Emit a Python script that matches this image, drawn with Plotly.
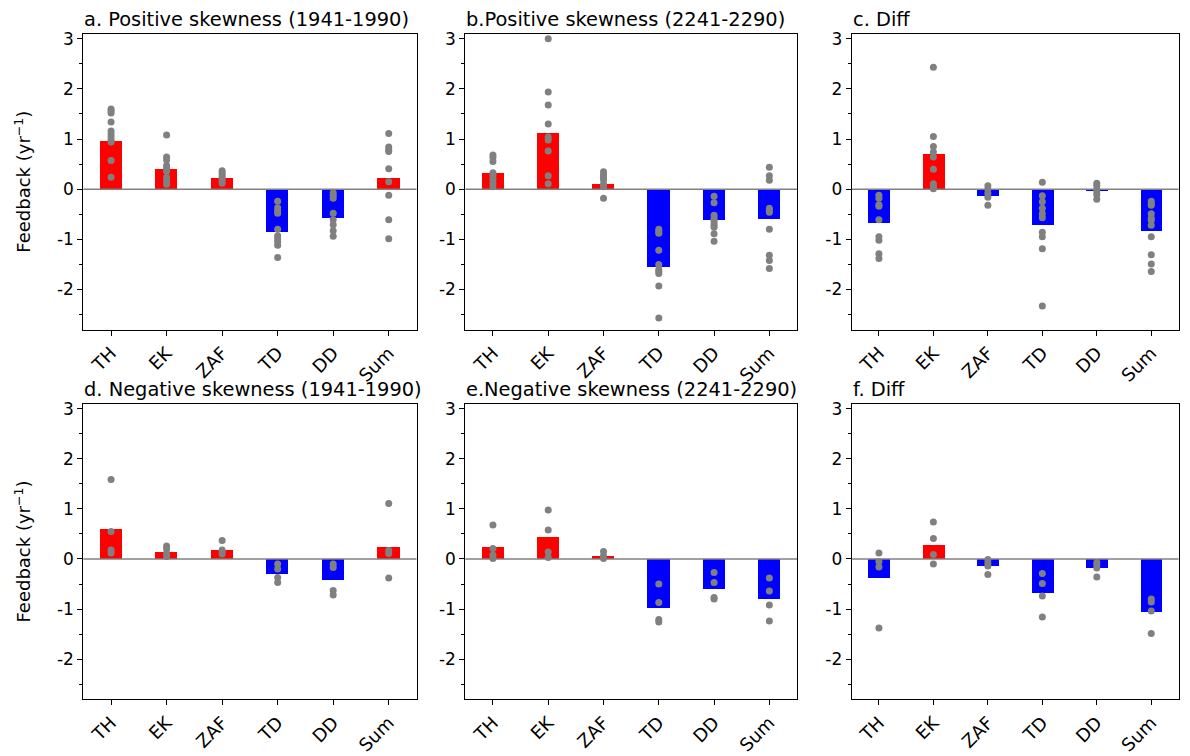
import plotly.graph_objects as go

W, H = 1190, 756
categories = ["TH", "EK", "ZAF", "TD", "DD", "Sum"]

titles = ["a. Positive skewness (1941-1990)", "b.Positive skewness (2241-2290)", "c. Diff",
          "d. Negative skewness (1941-1990)", "e.Negative skewness (2241-2290)", "f. Diff"]

# bar (mean) values per panel
bars_a = [0.97, 0.40, 0.23, -0.84, -0.57, 0.23]
bars_b = [0.33, 1.13, 0.11, -1.55, -0.61, -0.59]
bars_c = [-0.67, 0.71, -0.14, -0.70, -0.04, -0.82]
bars_d = [0.60, 0.15, 0.19, -0.29, -0.41, 0.25]
bars_e = [0.25, 0.44, 0.07, -0.97, -0.59, -0.80]
bars_f = [-0.37, 0.29, -0.14, -0.68, -0.18, -1.06]

# individual member dots per panel per category
dots_a = [[1.6, 1.56, 1.52, 1.34, 1.16, 1.1, 1.04, 0.98, 0.94, 0.57, 0.24],
          [1.08, 0.64, 0.58, 0.47, 0.42, 0.36, 0.24, 0.17, 0.1],
          [0.37, 0.33, 0.29, 0.25, 0.21, 0.17, 0.12],
          [-0.24, -0.37, -0.43, -0.48, -0.8, -0.93, -0.99, -1.05, -1.12, -1.36],
          [-0.07, -0.12, -0.18, -0.48, -0.61, -0.71, -0.83, -0.94],
          [1.11, 0.84, 0.79, 0.75, 0.41, 0.15, -0.12, -0.61, -0.99]]
dots_b = [[0.68, 0.63, 0.55, 0.33, 0.27, 0.2, 0.12, 0.05],
          [3.0, 1.94, 1.68, 1.3, 1.04, 0.98, 0.76, 0.27, 0.11],
          [0.35, 0.29, 0.24, 0.19, 0.1, 0.05, -0.18],
          [-0.8, -0.85, -0.88, -1.22, -1.5, -1.6, -1.64, -1.68, -1.93, -2.57],
          [-0.14, -0.27, -0.52, -0.58, -0.62, -0.67, -0.72, -0.76, -0.89, -1.04],
          [0.44, 0.27, 0.18, -0.38, -0.42, -0.46, -0.8, -1.32, -1.42, -1.58]]
dots_c = [[-0.12, -0.18, -0.31, -0.34, -0.61, -0.95, -1.02, -1.29, -1.38],
          [2.43, 1.05, 0.85, 0.74, 0.64, 0.4, 0.11, 0.06, 0.01],
          [0.07, 0.0, -0.08, -0.16, -0.32],
          [0.14, -0.13, -0.25, -0.38, -0.49, -0.57, -0.86, -0.95, -1.19, -2.33],
          [0.12, 0.07, 0.0, -0.05, -0.11, -0.2],
          [-0.24, -0.29, -0.32, -0.49, -0.58, -0.62, -0.72, -0.95, -1.31, -1.49, -1.64]]
dots_d = [[1.59, 0.55, 0.18, 0.12],
          [0.26, 0.2, 0.11, 0.05],
          [0.37, 0.18, 0.14, 0.1],
          [-0.1, -0.2, -0.37, -0.47],
          [-0.1, -0.17, -0.63, -0.72],
          [1.11, 0.17, 0.11, -0.38]]
dots_e = [[0.68, 0.21, 0.08, 0.01],
          [0.98, 0.58, 0.14, 0.03],
          [0.15, 0.06, 0.01],
          [-0.5, -0.87, -1.21, -1.26],
          [-0.27, -0.47, -0.77, -0.8],
          [-0.38, -0.64, -0.92, -1.24]]
dots_f = [[0.12, -0.05, -0.16, -1.38],
          [0.74, 0.41, 0.09, -0.1],
          [-0.01, -0.08, -0.14, -0.31],
          [-0.29, -0.49, -0.74, -1.16],
          [-0.07, -0.12, -0.18, -0.36],
          [-0.8, -0.86, -1.04, -1.49]]

ytick_vals = [-2, -1, 0, 1, 2, 3]
ytick_text = ["-2", "-1", "0", "1", "2", "3"]

panels_bars = [bars_a, bars_b, bars_c, bars_d, bars_e, bars_f]
panels_dots = [dots_a, dots_b, dots_c, dots_d, dots_e, dots_f]

# pixel layout of the axes boxes
col_px = [(83.3, 416.5), (465.3, 797.0), (851.7, 1178.5)]
row_px = [(29.3, 330.7), (406.3, 707.3)]

fig = go.Figure()
annotations = []
shapes = []
FONT = "DejaVu Sans"
TICK = 17

for i in range(6):
    r, c = divmod(i, 3)
    ax = "" if i == 0 else str(i + 1)
    xa, ya = "x" + ax, "y" + ax
    bars = panels_bars[i]
    colors = ["red" if v > 0 else "blue" for v in bars]
    fig.add_trace(go.Bar(x=list(range(6)), y=bars, marker_color=colors, marker_line_width=0,
                         width=0.4, xaxis=xa, yaxis=ya, showlegend=False))
    xs, ys = [], []
    for k, vals in enumerate(panels_dots[i]):
        xs += [k] * len(vals)
        ys += vals
    fig.add_trace(go.Scatter(x=xs, y=ys, mode="markers", marker=dict(color="gray", size=7),
                             xaxis=xa, yaxis=ya, showlegend=False))
    x0, x1 = col_px[c]
    y0, y1 = row_px[r]
    xdom = [x0 / W, x1 / W]
    ydom = [1 - y1 / H, 1 - y0 / H]
    fig.layout["xaxis" + ax] = dict(domain=xdom, range=[-0.5, 5.5], tickvals=list(range(6)),
                                     ticktext=categories, tickangle=-45, showgrid=False, zeroline=False,
                                     showline=True, mirror=True, linecolor="black", linewidth=1,
                                     ticks="outside", ticklen=5, tickcolor="black",
                                     tickfont=dict(family=FONT, size=18, color="black"),
                                     anchor=ya, fixedrange=True)
    fig.layout["yaxis" + ax] = dict(domain=ydom, range=[-2.8, 3.1], tickvals=ytick_vals,
                                     ticktext=ytick_text, showgrid=False, zeroline=False,
                                     showline=True, mirror=True, linecolor="black", linewidth=1,
                                     ticks="outside", ticklen=5, tickcolor="black",
                                     minor=dict(tickvals=[-2.5, -1.5, -0.5, 0.5, 1.5, 2.5], ticks="outside",
                                                ticklen=3, tickcolor="black"),
                                     tickfont=dict(family=FONT, size=TICK, color="black"),
                                     anchor=xa, fixedrange=True)
    if c == 0:
        fig.layout["yaxis" + ax].title = dict(text="Feedback (yr<sup>\u22121</sup>)",
                                              font=dict(family=FONT, size=18, color="black"),
                                              standoff=21)
    shapes.append(dict(type="line", xref=xa + " domain", yref=ya, x0=0, x1=1, y0=0, y1=0,
                       line=dict(color="gray", width=1.5), layer="above"))
    annotations.append(dict(text=titles[i], xref="paper", yref="paper", x=x0 / W - 1 / W,
                            y=1 - (y0 - 1) / H,
                            xanchor="left", yanchor="bottom", showarrow=False,
                            font=dict(family=FONT, size=19.4, color="black")))

fig.update_layout(width=W, height=H, margin=dict(l=0, r=0, t=0, b=0), paper_bgcolor="white",
                  plot_bgcolor="white", annotations=annotations, shapes=shapes, bargap=0)
fig.write_html("out.html")
